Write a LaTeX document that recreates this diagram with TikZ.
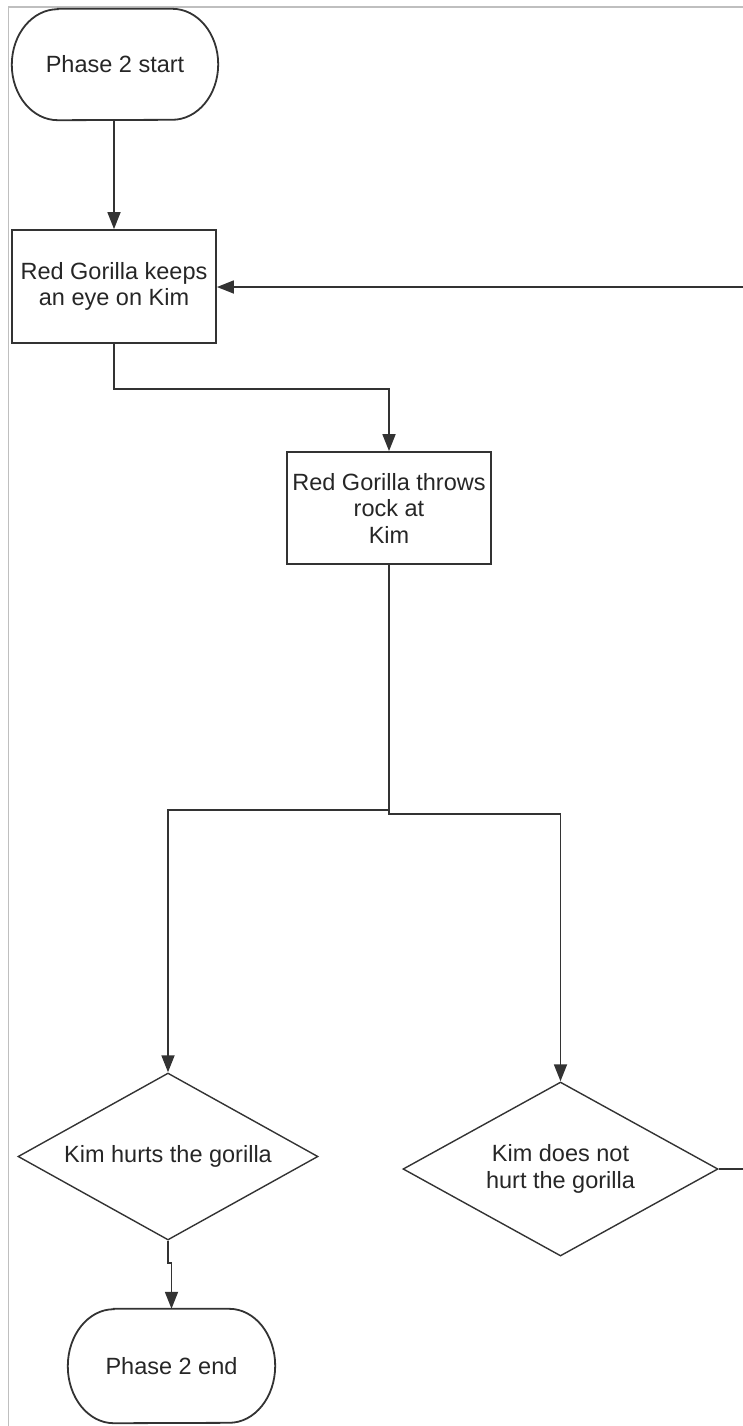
\documentclass[tikz,border=0pt]{standalone}
\usepackage{fontspec}
\setmainfont{Liberation Sans}
\usetikzlibrary{arrows.meta,shapes.geometric,calc}
\begin{document}
\begin{tikzpicture}[x=1pt,y=1pt,
  every node/.style={font=\fontsize{23.5}{26.5}\selectfont, text=black!85, align=center, inner sep=0pt},
  ln/.style={draw=black!80, line width=1.8pt},
  arr/.style={ln, -{Triangle[length=17pt,width=13pt]}},
  term/.style={minimum width=206pt, minimum height=111pt},
  proc/.style={ln, rectangle, minimum width=204pt, minimum height=112pt},
  dec/.style={ln, line width=1.4pt, diamond, aspect=2, inner sep=0pt}
]
\useasboundingbox (0,0) rectangle (743,-1426);
% frame
\draw[draw=black!25, line width=1.5pt] (743,-7) -- (8.5,-7) -- (8.5,-1426);

% nodes
\node[term] (start) at (115,-64.5) {Phase 2 start};
\node[proc, minimum height=113pt] (box1) at (114,-286.5) {Red Gorilla keeps\\an eye on Kim};
\node[proc] (box2) at (389,-508) {Red Gorilla throws\\rock at\\Kim};
\node[dec, minimum width=300pt, minimum height=167pt] (d1) at (168,-1156.5) {Kim hurts the gorilla};
\node[dec, minimum width=315pt, minimum height=174pt] (d2) at (560.5,-1169) {Kim does not\\hurt the gorilla};
\node[term, minimum width=207pt, minimum height=114pt] (end) at (171.5,-1366) {Phase 2 end};

% terminal outlines (elliptical ends)
\foreach \n/\rx/\ry in {start/46/55.5, end/46/57} {
  \draw[ln] ($(\n.north west)+(\rx,0)$) -- ($(\n.north east)+(-\rx,0)$)
    arc[start angle=90, end angle=0, x radius=\rx, y radius=\ry]
    arc[start angle=0, end angle=-90, x radius=\rx, y radius=\ry]
    -- ($(\n.south west)+(\rx,0)$)
    arc[start angle=270, end angle=180, x radius=\rx, y radius=\ry]
    arc[start angle=180, end angle=90, x radius=\rx, y radius=\ry] -- cycle;
}

% free ends at the right edge
\coordinate (rin) at (743,-287);
\coordinate (rout) at (743,-1169);

% connectors
\draw[arr] (start.south -| box1.north) -- (box1.north);
\draw[arr] (box1.south) -- ++(0,-45) -| (box2.north);
\draw[arr] (box2.south) -- ++(0,-245) coordinate (j) -| (d1.north);
\draw[arr] (j) -- ++(0,-4) -| (d2.north);
\draw[arr] (rin) -- (rin -| box1.east);
\draw[ln] (d2.east) -- (rout);
\draw[arr] (d1.south) -- ++(0,-22) -| (end.north);
\end{tikzpicture}
\end{document}
